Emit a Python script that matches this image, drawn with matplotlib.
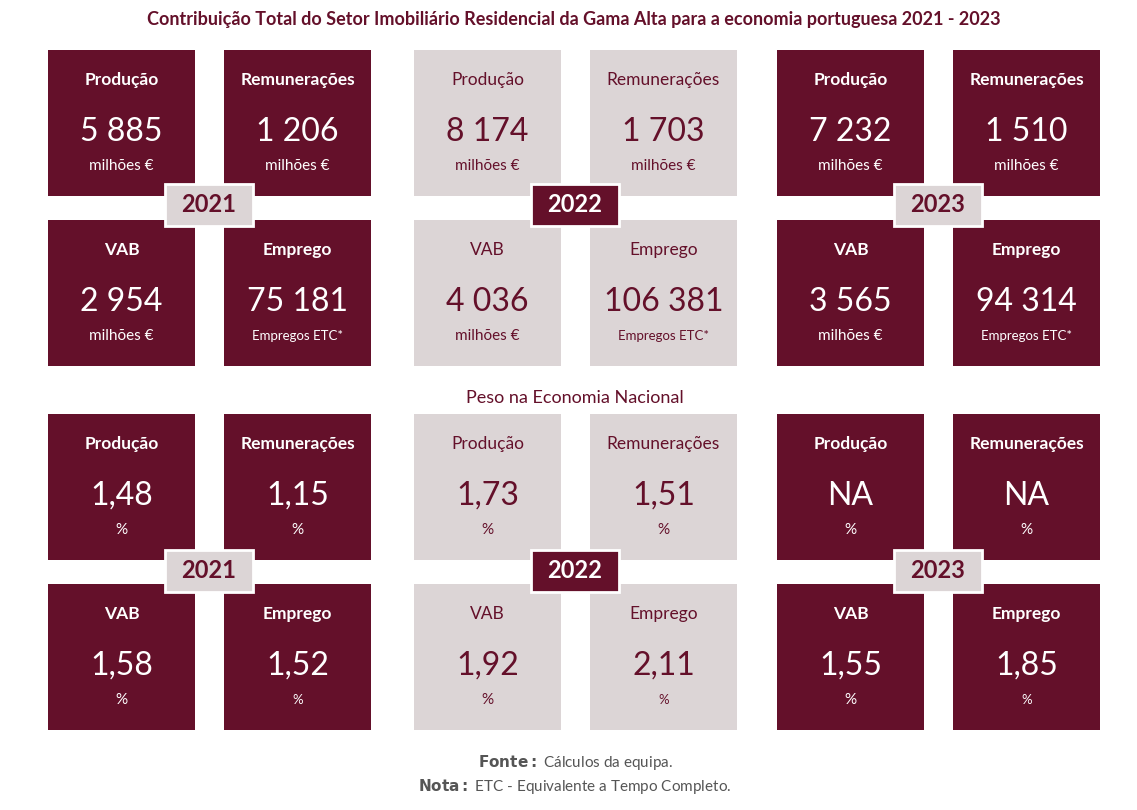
import matplotlib.pyplot as plt
from matplotlib.patches import Rectangle

plt.rcParams['font.family'] = 'Lato'

DARK = '#64102a'
LIGHT = '#dcd5d6'

years = ['2021', '2022', '2023']
metrics = ['Produção', 'Remunerações', 'VAB', 'Emprego']
# contribuição total
total_values = {
    '2021': ['5 885', '1 206', '2 954', '75 181'],
    '2022': ['8 174', '1 703', '4 036', '106 381'],
    '2023': ['7 232', '1 510', '3 565', '94 314'],
}
total_units = ['milhões €', 'milhões €', 'milhões €', 'Empregos ETC*']
# peso na economia nacional (%)
weight_values = {
    '2021': ['1,48', '1,15', '1,58', '1,52'],
    '2022': ['1,73', '1,51', '1,92', '2,11'],
    '2023': ['NA', 'NA', '1,55', '1,85'],
}
weight_units = ['%', '%', '%', '%']

W, H = 1137, 810
fig = plt.figure(figsize=(W / 100, H / 100), dpi=100)
ax = fig.add_axes([0, 0, 1, 1])
ax.set_xlim(0, W)
ax.set_ylim(H, 0)
ax.axis('off')

group_x = [48, 414, 777]
col_dx = [0, 176]
bw, bh = 147, 146


def draw_block(top, values, units, yoff):
    for gi, yr in enumerate(years):
        dark = yr != '2022'
        fc = DARK if dark else LIGHT
        tc = 'white' if dark else DARK
        for mi, name in enumerate(metrics):
            x = group_x[gi] + col_dx[mi % 2]
            y = top + (mi // 2) * 170
            ax.add_patch(Rectangle((x, y), bw, bh, fc=fc, ec='none'))
            cx = x + bw / 2
            ax.text(cx, y + 30, name, color=tc, fontsize=12.5, ha='center', va='center', fontweight='bold' if dark else 'normal')
            ax.text(cx, y + 82, values[yr][mi], color=tc, fontsize=23, ha='center', va='center')
            ax.text(cx, y + 116, units[mi], color=tc, fontsize=11 if mi < 3 else 9.5, ha='center', va='center')
        # year tag
        ycx = group_x[gi] + 161
        ycy = top + 157 + yoff
        ax.add_patch(Rectangle((ycx - 44, ycy - 21), 88, 42, fc=LIGHT if dark else DARK, ec='white', lw=2))
        ax.text(ycx, ycy, yr, color=DARK if dark else 'white', fontsize=17, ha='center', va='center', fontweight='bold')


draw_block(50, total_values, total_units, -2)
draw_block(414, weight_values, weight_units, 0)

ax.text(W / 2 + 5, 20, 'Contribuição Total do Setor Imobiliário Residencial da Gama Alta para a economia portuguesa 2021 - 2023',
        color=DARK, fontsize=13, ha='center', va='center', fontweight='bold')
ax.text(575, 398, 'Peso na Economia Nacional', color=DARK, fontsize=13, ha='center', va='center')
ax.text(575, 762, r'$\bf{Fonte:}$ Cálculos da equipa.', color='#555555', fontsize=11, ha='center', va='center')
ax.text(575, 787, r'$\bf{Nota:}$ ETC - Equivalente a Tempo Completo.', color='#555555', fontsize=11, ha='center', va='center')

fig.savefig('out.png', dpi=100, facecolor='white')
